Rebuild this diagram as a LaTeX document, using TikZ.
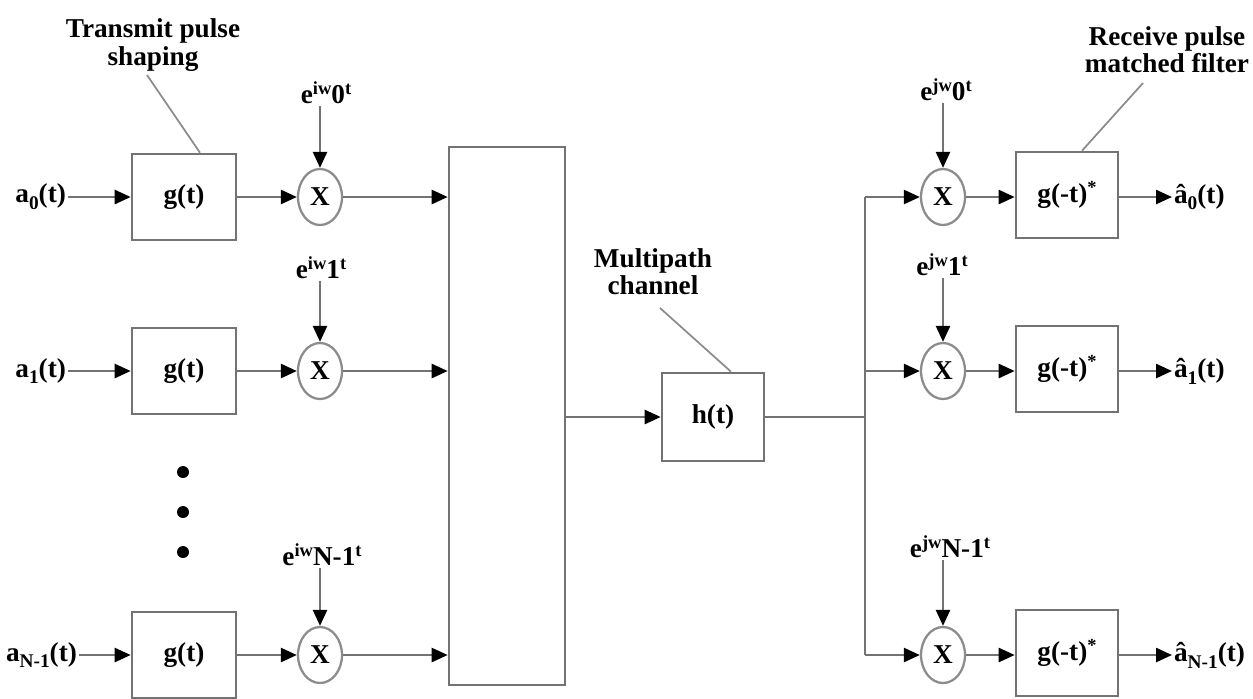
\documentclass[tikz,border=0pt]{standalone}
\usepackage{fontspec}
\setmainfont{Liberation Serif}
\usetikzlibrary{shapes,arrows.meta,calc,positioning}
\newcommand{\lsub}[1]{\raisebox{-0.55ex}{\fontsize{11}{11}\selectfont #1}}
\newcommand{\hsup}[1]{\raisebox{0.75ex}{\fontsize{10.5}{10.5}\selectfont #1}}
\tikzset{
	wire/.style = {draw=black!55, line width=1.4pt,
	  -{Triangle[length=0.32cm, width=0.28cm, color=black]}},
	line/.style = {draw=black!55, line width=1.4pt},
	callout/.style = {draw=black!45, line width=1pt},
	block/.style = {rectangle, draw=black!55, line width=1.5pt,
	  minimum width=2.08cm, minimum height=1.72cm},
	mixer/.style = {ellipse, draw=black!45, line width=1.3pt,
	  minimum width=0.88cm, minimum height=1.12cm, inner sep=0pt},
	lbl/.style = {inner sep=1pt, align=center},
	dot/.style = {circle, fill=black, inner sep=0pt, minimum size=0.24cm},
}

\begin{document}
\begin{tikzpicture}[x=0.02cm, y=-0.02cm, font=\fontsize{15.5}{15.5}\selectfont\bfseries]
    \useasboundingbox (0,0) rectangle (1253,698);
    % transmitter branches
    \node[lbl, anchor=east] (a0) at (68,197) {a\lsub{0}(t)};
    \node[lbl, anchor=east] (a1) at (68,371) {a\lsub{1}(t)};
    \node[lbl, anchor=east] (aN) at (79,655) {a\lsub{N-1}(t)};
    \node[block] (gt0) at (184,197) {g(t)};
    \node[block] (gt1) at (184,371) {g(t)};
    \node[block] (gtN) at (184,655) {g(t)};
    \node[mixer] (mx0) at (320,197) {X};
    \node[mixer] (mx1) at (320,371) {X};
    \node[mixer] (mxN) at (320,655) {X};
    \node[lbl] (ex0) at (326,93) {e\hsup{iw}0\hsup{t}};
    \node[lbl] (ex1) at (321,268) {e\hsup{iw}1\hsup{t}};
    \node[lbl] (exN) at (322,555) {e\hsup{iw}N-1\hsup{t}};
    \node[dot] (d1) at (183,472) {};
    \node[dot] (d2) at (183,512) {};
    \node[dot] (d3) at (183,552) {};
    \node[lbl] (tps) at (153,45) {Transmit pulse\\shaping};
    \coordinate (tpsend) at (147,75);

    % channel
    \node[block, minimum width=2.32cm, minimum height=10.76cm] (sum) at (507,416) {};
    \node[block, minimum width=2.04cm, minimum height=1.76cm] (ht) at (713,417) {h(t)};
    \node[lbl] (mpc) at (653,272) {Multipath\\channel};
    \coordinate (mpcend) at (660,308);

    % receiver branches
    \coordinate (bus0) at (865,197);
    \coordinate (bus1) at (865,371);
    \coordinate (busN) at (865,655);
    \node[mixer] (my0) at (943,197) {X};
    \node[mixer] (my1) at (943,371) {X};
    \node[mixer] (myN) at (943,655) {X};
    \node[lbl] (ey0) at (946,90) {e\hsup{jw}0\hsup{t}};
    \node[lbl] (ey1) at (942,265) {e\hsup{jw}1\hsup{t}};
    \node[lbl] (eyN) at (950,547) {e\hsup{jw}N-1\hsup{t}};
    \node[block, minimum width=2.04cm] (rg0) at (1067,195) {g(-t)\hsup{*}};
    \node[block, minimum width=2.04cm] (rg1) at (1067,369) {g(-t)\hsup{*}};
    \node[block, minimum width=2.04cm] (rgN) at (1067,653) {g(-t)\hsup{*}};
    \node[lbl, anchor=west] (o0) at (1172,197) {\^a\lsub{0}(t)};
    \node[lbl, anchor=west] (o1) at (1172,371) {\^a\lsub{1}(t)};
    \node[lbl, anchor=west] (oN) at (1172,655) {\^a\lsub{N-1}(t)};
    \node[lbl] (rpm) at (1167,50) {Receive pulse\\matched filter};
    \coordinate (rpmend) at (1143,83);

    \draw[wire] (a0) -- (gt0);
    \draw[wire] (a1) -- (gt1);
    \draw[wire] (aN) -- (gtN);
    \draw[wire] (gt0) -- (mx0);
    \draw[wire] (gt1) -- (mx1);
    \draw[wire] (gtN) -- (mxN);
    \draw[wire] (mx0 |- ex0.south) -- (mx0);
    \draw[wire] (mx1 |- ex1.south) -- (mx1);
    \draw[wire] (mxN |- exN.south) -- (mxN);
    \draw[wire] (mx0) -- (mx0 -| sum.west);
    \draw[wire] (mx1) -- (mx1 -| sum.west);
    \draw[wire] (mxN) -- (mxN -| sum.west);
    \draw[callout] (tpsend) -- ($(gt0.north)+(16,0)$);

    \draw[wire] (sum.east |- ht) -- (ht);
    \draw[line] (ht) -- (ht -| bus0);
    \draw[line] (bus0) -- (busN);
    \draw[callout] (mpcend) -- ($(ht.north)+(18,0)$);

    \draw[wire] (bus0) -- (my0);
    \draw[wire] (bus1) -- (my1);
    \draw[wire] (busN) -- (myN);
    \draw[wire] (my0 |- ey0.south) -- (my0);
    \draw[wire] (my1 |- ey1.south) -- (my1);
    \draw[wire] (myN |- eyN.south) -- (myN);
    \draw[wire] (my0) -- (my0 -| rg0.west);
    \draw[wire] (my1) -- (my1 -| rg1.west);
    \draw[wire] (myN) -- (myN -| rgN.west);
    \draw[wire] (rg0.east |- my0) -- (o0);
    \draw[wire] (rg1.east |- my1) -- (o1);
    \draw[wire] (rgN.east |- myN) -- (oN);
    \draw[callout] (rpmend) -- ($(rg0.north)+(15,0)$);
\end{tikzpicture}
\end{document}
